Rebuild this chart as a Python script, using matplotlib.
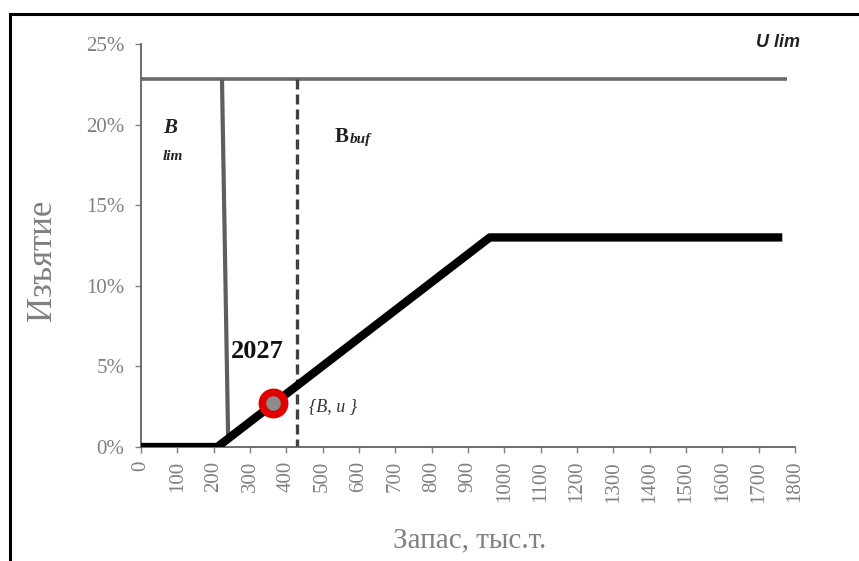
import matplotlib

matplotlib.use("Agg")
import matplotlib.pyplot as plt
from matplotlib.lines import Line2D
from matplotlib.ticker import FuncFormatter

# harvest control rule (stock in thousand tonnes, harvest rate as fraction)
HCR_STOCK = [0, 210, 960, 1765]
HCR_RATE = [0.0, 0.0, 0.13, 0.13]

U_LIM_X = [0, 1778]
U_LIM_Y = [0.228, 0.228]

B_LIM_X = [223, 240]
B_LIM_Y = [0.228, 0.004]

B_BUF_X = [429, 429]
B_BUF_Y = [0.228, 0.0]

POINT_2027_X = [363]
POINT_2027_Y = [0.027]

X_TICKS = list(range(0, 1801, 100))
Y_TICKS = [0.0, 0.05, 0.10, 0.15, 0.20, 0.25]

GRAY = "#808080"
SERIF = ["Liberation Serif", "DejaVu Serif"]

fig = plt.figure(figsize=(8.59, 5.61), dpi=100)
ax = fig.add_axes([0.1641, 0.2032, 0.7614, 0.7184])

ax.plot(U_LIM_X, U_LIM_Y, color="#6b6b6b", linewidth=2.6, solid_capstyle="butt")
ax.plot(B_LIM_X, B_LIM_Y, color="#5e5e5e", linewidth=3.0, solid_capstyle="butt")
ax.plot(B_BUF_X, B_BUF_Y, color="#404040", linewidth=2.4, linestyle=(0, (3, 1.5)))
ax.plot(HCR_STOCK, HCR_RATE, color="black", linewidth=6.0, solid_capstyle="butt", zorder=3)
ax.plot(POINT_2027_X, POINT_2027_Y, "o", markersize=16, markerfacecolor="#8c8c8c",
        markeredgecolor="#e00000", markeredgewidth=5.5, zorder=4)

ax.text(1753, 0.251, "U lim", fontsize=13, fontweight="bold", fontstyle="italic",
        family="Liberation Sans", ha="center", va="center", color="#222222")
ax.text(60, 0.198, "B", fontsize=15, fontweight="bold", fontstyle="italic",
        family=SERIF, ha="left", va="center", color="#222222")
ax.text(60, 0.180, "lim", fontsize=11, fontweight="bold", fontstyle="italic",
        family=SERIF, ha="left", va="center", color="#222222")
ax.text(534, 0.192, "B", fontsize=15, fontweight="bold",
        family=SERIF, ha="left", va="center", color="#222222")
ax.text(575, 0.191, "buf", fontsize=11, fontweight="bold", fontstyle="italic",
        family=SERIF, ha="left", va="center", color="#222222")
ax.text(320, 0.059, "2027", fontsize=19, fontweight="bold",
        family=SERIF, ha="center", va="center", color="#111111")
ax.text(462, 0.025, "{B, u }", fontsize=13, fontstyle="italic",
        family=SERIF, ha="left", va="center", color="#333333")

ax.set_xlim(0, 1800)
ax.set_ylim(0, 0.25)
ax.set_xticks(X_TICKS)
ax.set_yticks(Y_TICKS)
ax.yaxis.set_major_formatter(FuncFormatter(lambda v, _: f"{v * 100:.0f}%"))
ax.tick_params(axis="both", direction="out", length=4, width=1, color=GRAY,
               labelcolor=GRAY, labelsize=15)
ax.tick_params(axis="x", labelrotation=90, pad=6)
ax.tick_params(axis="y", pad=8)
for label in ax.get_xticklabels() + ax.get_yticklabels():
    label.set_family(SERIF)

for side in ("top", "right"):
    ax.spines[side].set_visible(False)
for side in ("left", "bottom"):
    ax.spines[side].set_color("#555555")
    ax.spines[side].set_linewidth(1.2)

ax.set_ylabel("Изъятие", fontsize=25, family=SERIF, color=GRAY, va="center")
ax.yaxis.set_label_coords(-0.151, 0.464)
ax.set_xlabel("Запас, тыс.т.", fontsize=21, family=SERIF, color=GRAY, va="center")
ax.xaxis.set_label_coords(0.503, -0.231)

# frame lines around the figure (top and left only)
fig.add_artist(Line2D([10 / 859, 1.0], [1 - 14 / 561, 1 - 14 / 561],
                      transform=fig.transFigure, color="black", linewidth=2.2))
fig.add_artist(Line2D([10 / 859, 10 / 859], [0.0, 1 - 14 / 561],
                      transform=fig.transFigure, color="black", linewidth=2.2))

fig.savefig("out.png", dpi=100)
